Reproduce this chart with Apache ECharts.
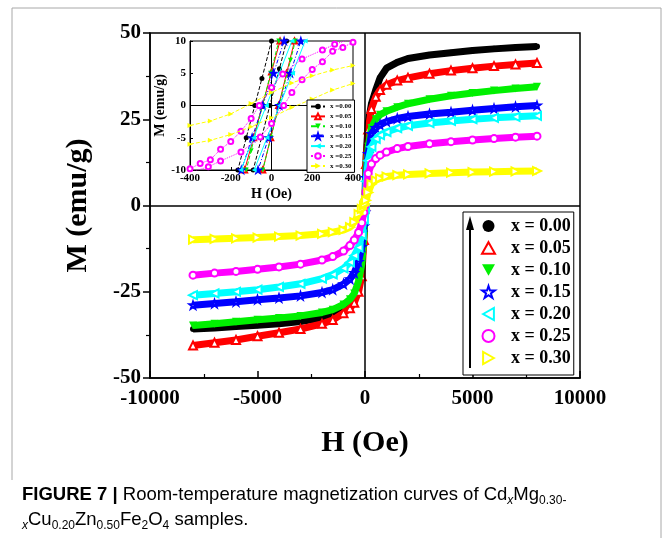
<!DOCTYPE html>
<html><head><meta charset="utf-8">
<script src="https://cdn.jsdelivr.net/npm/echarts@6/dist/echarts.min.js"></script>
<style>html,body{margin:0;padding:0;background:#fff}#c{width:664px;height:538px}</style>
</head><body><div id="c"></div>
<script>
// ---------- data ----------
const sampleNames = ['x = 0.00','x = 0.05','x = 0.10','x = 0.15','x = 0.20','x = 0.25','x = 0.30'];
const insetNames  = ['x =0.00','x =0.05','x =0.10','x =0.15','x =0.20','x =0.25','x =0.30'];
const xTicks = [-10000,-5000,0,5000,10000];
const yTicks = [-50,-25,0,25,50];

// field values (Oe) of the main curves
const mainH = [-8000,-7000,-6000,-5000,-4000,-3000,-2000,-1500,-1000,-700,-500,-300,-150,-50,0,50,150,300,500,700,1000,1500,2000,3000,4000,5000,6000,7000,8000];
// magnetization (emu/g)
const mX000 = [-35.8,-35.5,-35.1,-34.7,-34.3,-33.6,-32.6,-31.8,-30.4,-28.8,-27,-23.5,-18,-8,2,14,24,29.5,33.5,37,39.8,41.5,42.6,43.6,44.3,44.9,45.4,45.8,46.1];
const mX005 = [-40.6,-39.8,-39,-37.9,-36.9,-35.8,-34.3,-33.2,-31.2,-29.8,-28.2,-25,-20.5,-10,0,12,22,28,31.5,33.5,35,36.2,37,38.2,39.1,39.8,40.4,40.9,41.3];
const mX010 = [-34.8,-34.3,-33.7,-33.1,-32.6,-32,-31,-30.2,-28.7,-27.2,-25.5,-22,-17,-9,-3,10,17,22.5,25,26.3,27.3,28.5,29.5,30.8,31.8,32.6,33.3,33.9,34.4];
const mX015 = [-28.9,-28.4,-27.9,-27.3,-26.8,-26.2,-25.2,-24.4,-22.8,-21.3,-19.5,-16.3,-12,-6,-2,8,15,20.8,22.5,23.4,24.3,25.2,25.8,26.5,27,27.6,28.1,28.6,29];
const mX020 = [-26,-25.5,-25,-24.4,-23.6,-22.7,-21.2,-20,-18.2,-16.5,-14.5,-12.2,-8.5,-4,-1,7,13,17,19.3,20.4,21.3,22.4,23.1,23.9,24.5,25,25.4,25.7,26];
const mX025 = [-20.2,-19.6,-19.1,-18.5,-17.8,-17,-15.8,-14.8,-13.2,-11.6,-10,-7.8,-5,-2,0,4,9.3,12,13.6,14.6,15.5,16.5,17.1,17.9,18.5,19,19.4,19.8,20.1];
const mX030 = [-9.9,-9.7,-9.5,-9.3,-9,-8.7,-8.2,-7.7,-7.1,-6.3,-4.8,-2.5,-1,0,0.5,1.5,3.8,6.2,7.3,7.9,8.4,8.8,9,9.3,9.5,9.7,9.8,9.9,10];

// inset: low-field loops, [H (Oe), M (emu/g)] for the two branches
const inX000a = [[-180,-12],[-165,-10],[-124,-5],[-82,0],[-47,4.2],[0,10],[16,12]];
const inX000b = [[-106,-12],[-90,-10],[-49,-5],[-8,0],[39,5.7],[74,10],[90,12]];
const inX005a = [[-150,-12],[-132,-10],[-88,-5],[-45,0],[0,5.2],[42,10],[60,12]];
const inX005b = [[-60,-12],[-43,-10],[-4,-5],[35,0],[74,5],[113,10],[130,12]];
const inX010a = [[-140,-12],[-124,-10],[-100,-7],[-44,0],[-4,5],[36,10],[52,12]];
const inX010b = [[-59,-12],[-43,-10],[-3,-5],[37,0],[93,7],[117,10],[133,12]];
const inX015a = [[-170,-12],[-148,-10],[-95,-5],[-43,0],[10,5],[62,10],[83,12]];
const inX015b = [[-87,-12],[-66,-10],[-14,-5],[39,0],[92,5],[144,10],[165,12]];
const inX020a = [[-175,-12],[-150,-10],[-88,-5],[-25,0],[38,5],[100,10],[125,12]];
const inX020b = [[-110,-12],[-85,-10],[-22,-5],[40,0],[103,5],[165,10],[190,12]];
const inX025a = [[-400,-9.8],[-350,-9.0],[-300,-8.4],[-250,-6.8],[-200,-5.6],[-150,-4],[-100,-2],[-60,0],[0,2.8],[55,4.9],[150,7.2],[250,8.6],[310,9.5],[400,10.4]];
const inX025b = [[-400,-10.4],[-310,-9.5],[-250,-8.6],[-150,-7.2],[-55,-4.9],[0,-2.8],[60,0],[100,2],[150,4],[200,5.6],[250,6.8],[300,8.4],[350,9.0],[400,9.8]];
const inX030a = [[-400,-3.1],[-300,-2.4],[-200,-1.3],[-100,0.3],[0,2.0],[100,3.5],[200,4.6],[300,5.5],[400,6.2]];
const inX030b = [[-400,-6],[-300,-5.4],[-200,-4.5],[-100,-3.3],[0,-1.9],[100,-0.3],[200,1.0],[300,2.4],[400,3.4]];

// ---------- styling ----------
const mainM = [mX000,mX005,mX010,mX015,mX020,mX025,mX030];
const insetA = [inX000a,inX005a,inX010a,inX015a,inX020a,inX025a,inX030a];
const insetB = [inX000b,inX005b,inX010b,inX015b,inX020b,inX025b,inX030b];
const colors = ['#000000','#ff0000','#00f000','#0000ff','#00ffff','#ff00ff','#ffff00'];
const STAR = 'M5,0L6.2,3.6L10,3.6L6.9,5.9L8.1,9.5L5,7.3L1.9,9.5L3.1,5.9L0,3.6L3.8,3.6Z';
const UP = 'M5,0L10,9L0,9Z';
const DOWN = 'M0,0L10,0L5,9Z';
const LEFT = 'M0,5L9,0L9,10Z';
const RIGHT = 'M9,5L0,0L0,10Z';
const mainSym = ['circle','emptyPath://'+UP,'path://'+DOWN,'emptyPath://'+STAR,'emptyPath://'+LEFT,'emptyCircle','emptyPath://'+RIGHT];
const mainSymSize = [6,8,8,7,8,7,8];
const insetSym = ['circle','emptyPath://'+UP,'path://'+DOWN,'emptyPath://'+STAR,'path://'+LEFT,'emptyCircle','path://'+RIGHT];
const insetLine = ['dashed','solid','dashed',[4,2,1,2],'solid','dotted','dashed'];
const SERIF = 'Liberation Serif';
const plain = v => String(v);

const series = [];
sampleNames.forEach((nm, i) => {
  const s = {
    name: nm, type: 'line', xAxisIndex: 0, yAxisIndex: 0,
    data: mainH.map((h, k) => [h, mainM[i][k]]),
    symbol: mainSym[i], symbolSize: mainSymSize[i], showSymbol: true,
    lineStyle: {color: colors[i], width: 7},
    itemStyle: {color: colors[i], borderWidth: 1},
    z: 3 + i, animation: false
  };
  if (i === 0) {
    s.markLine = {silent: true, symbol: 'none', animation: false, label: {show: false},
      lineStyle: {color: '#000', width: 1.5, type: 'solid'},
      data: [{xAxis: 0}, {yAxis: 0}]};
  }
  series.push(s);
});
insetNames.forEach((nm, i) => {
  const s = {
    name: nm, type: 'line', xAxisIndex: 1, yAxisIndex: 1,
    data: insetA[i].concat([['-','-']], insetB[i]),
    symbol: insetSym[i], symbolSize: 5, showSymbol: true, connectNulls: false,
    lineStyle: {color: colors[i], width: 1, type: insetLine[i]},
    itemStyle: {color: colors[i], borderWidth: 1},
    z: 20 + i, animation: false
  };
  if (i === 0) {
    s.markLine = {silent: true, symbol: 'none', animation: false, label: {show: false},
      lineStyle: {color: '#000', width: 1, type: 'solid'},
      data: [{xAxis: 0}, {yAxis: 0}]};
  }
  series.push(s);
});

const legendIcons = ['circle','emptyPath://'+UP,'path://'+DOWN,'emptyPath://'+STAR,'emptyPath://'+LEFT,'emptyCircle','emptyPath://'+RIGHT];

const option = {
  animation: false,
  backgroundColor: '#fff',
  grid: [
    {left: 150, right: 84, top: 33, bottom: 160, show: true, borderColor: '#000', borderWidth: 1.5, backgroundColor: 'transparent'},
    {left: 190, right: 311, top: 41, bottom: 368, show: true, borderColor: '#000', borderWidth: 1, backgroundColor: '#fff'}
  ],
  xAxis: [
    {type: 'value', gridIndex: 0, min: xTicks[0], max: xTicks[xTicks.length-1], interval: xTicks[1]-xTicks[0],
     splitLine: {show: false},
     axisLine: {onZero: false, lineStyle: {color: '#000', width: 1.5}},
     axisTick: {inside: true, length: 7, lineStyle: {color: '#000', width: 1.5}},
     minorTick: {show: true, splitNumber: 2, length: 4, lineStyle: {color: '#000', width: 1.2}},
     axisLabel: {color: '#000', fontFamily: SERIF, fontWeight: 'bold', fontSize: 21, margin: 10, formatter: plain},
     name: 'H (Oe)', nameLocation: 'middle', nameGap: 50,
     nameTextStyle: {color: '#000', fontFamily: SERIF, fontWeight: 'bold', fontSize: 30}},
    {type: 'value', gridIndex: 1, min: -400, max: 400, interval: 200,
     splitLine: {show: false},
     axisLine: {onZero: false, lineStyle: {color: '#000', width: 1}},
     axisTick: {inside: true, length: 3, lineStyle: {color: '#000'}},
     axisLabel: {color: '#000', fontFamily: SERIF, fontWeight: 'bold', fontSize: 11, margin: 3, formatter: plain},
     name: 'H (Oe)', nameLocation: 'middle', nameGap: 17,
     nameTextStyle: {color: '#000', fontFamily: SERIF, fontWeight: 'bold', fontSize: 14}}
  ],
  yAxis: [
    {type: 'value', gridIndex: 0, min: yTicks[0], max: yTicks[yTicks.length-1], interval: yTicks[1]-yTicks[0],
     splitLine: {show: false},
     axisLine: {onZero: false, lineStyle: {color: '#000', width: 1.5}},
     axisTick: {inside: false, length: 7, lineStyle: {color: '#000', width: 1.5}},
     minorTick: {show: true, splitNumber: 2, length: 4, lineStyle: {color: '#000', width: 1.2}},
     axisLabel: {color: '#000', fontFamily: SERIF, fontWeight: 'bold', fontSize: 21, margin: 9, formatter: plain},
     name: 'M (emu/g)', nameLocation: 'middle', nameGap: 57, nameRotate: 90,
     nameTextStyle: {color: '#000', fontFamily: SERIF, fontWeight: 'bold', fontSize: 30}},
    {type: 'value', gridIndex: 1, min: -10, max: 10, interval: 5,
     splitLine: {show: false},
     axisLine: {onZero: false, lineStyle: {color: '#000', width: 1}},
     axisTick: {inside: true, length: 3, lineStyle: {color: '#000'}},
     axisLabel: {color: '#000', fontFamily: SERIF, fontWeight: 'bold', fontSize: 11, margin: 4, formatter: plain},
     name: 'M (emu/g)', nameLocation: 'middle', nameGap: 20, nameRotate: 90,
     nameTextStyle: {color: '#000', fontFamily: SERIF, fontWeight: 'bold', fontSize: 14}}
  ],
  legend: [
    {show: true, orient: 'vertical', left: 463, top: 212, selectedMode: false, align: 'left',
     data: sampleNames.map((n, i) => ({name: n, icon: legendIcons[i]})),
     itemWidth: 13, itemHeight: 12, itemGap: 4, padding: [5, 3, 8, 18],
     borderColor: '#000', borderWidth: 1, backgroundColor: '#fff',
     textStyle: {color: '#000', fontFamily: SERIF, fontWeight: 'bold', fontSize: 18, padding: [0, 0, 0, 11]}},
    {show: true, orient: 'vertical', left: 307, top: 100, selectedMode: false,
     data: insetNames,
     itemWidth: 14, itemHeight: 7, itemGap: 2.6, padding: [3, 3, 3, 3],
     borderColor: '#000', borderWidth: 1, backgroundColor: '#fff', z: 30,
     textStyle: {color: '#000', fontFamily: SERIF, fontWeight: 'bold', fontSize: 7}}
  ],
  graphic: [
    {type: 'polyline', silent: true, shape: {points: [[12,480],[12,8],[661,8],[661,538]]},
     style: {stroke: '#a8a8a8', lineWidth: 1, fill: null}},
    {type: 'line', silent: true, z: 100, shape: {x1: 470, y1: 368, x2: 470, y2: 226},
     style: {stroke: '#000', lineWidth: 2}},
    {type: 'polygon', silent: true, z: 100, shape: {points: [[470,216],[466,230],[474,230]]},
     style: {fill: '#000'}},
    {type: 'text', left: 22, top: 485, silent: true,
     style: {
       text: '{b|FIGURE 7 |}{n| Room-temperature magnetization curves of Cd}{si|x}{n|Mg}{s|0.30-}\n{si|x}{n|Cu}{s|0.20}{n|Zn}{s|0.50}{n|Fe}{s|2}{n|O}{s|4}{n| samples.}',
       rich: {
         b: {fontFamily: 'Liberation Sans', fontWeight: 'bold', fontSize: 18.5, color: '#222', lineHeight: 25},
         n: {fontFamily: 'Liberation Sans', fontSize: 18.5, color: '#333', lineHeight: 25},
         s: {fontFamily: 'Liberation Sans', fontSize: 12, color: '#333', lineHeight: 12, verticalAlign: 'bottom'},
         si: {fontFamily: 'Liberation Sans', fontSize: 12, fontStyle: 'italic', color: '#333', lineHeight: 12, verticalAlign: 'bottom'}
       }
     }}
  ],
  series: series
};
const chart = echarts.init(document.getElementById('c'), null, {renderer: 'canvas'});
chart.setOption(option);
</script>
</body></html>
